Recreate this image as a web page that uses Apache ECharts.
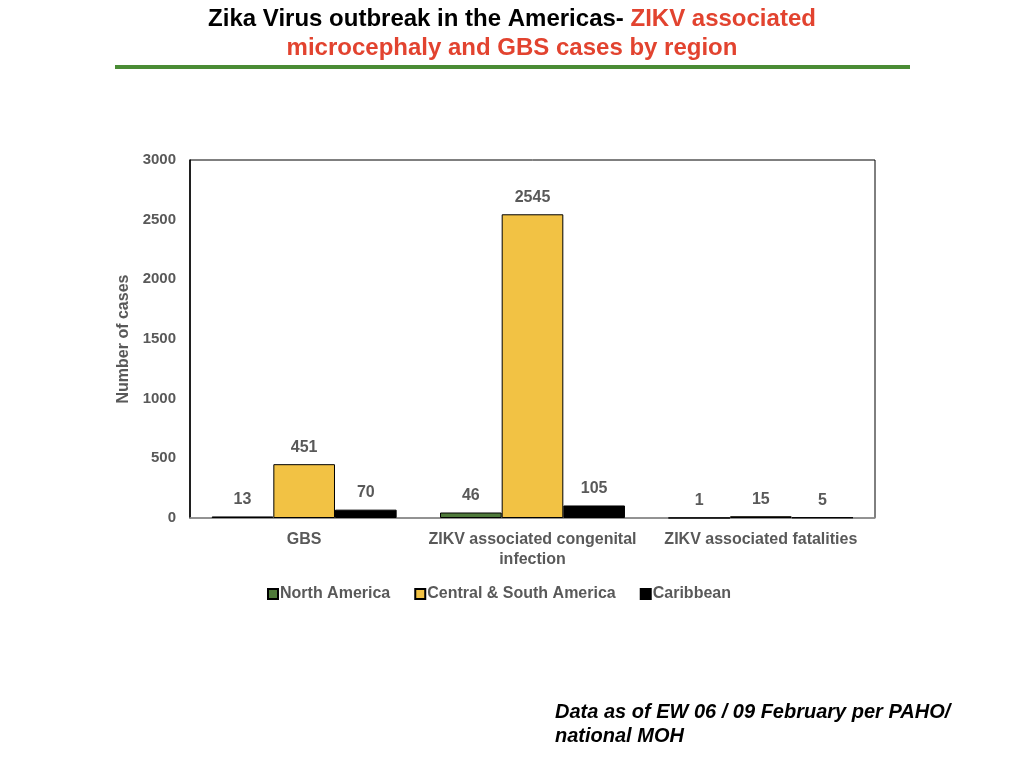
<!DOCTYPE html>
<html>
  <head>
    <meta charset="utf-8" />
    <title>Zika Virus outbreak in the Americas</title>
    <script src="https://cdn.jsdelivr.net/npm/echarts@6/dist/echarts.min.js"></script>
    <style>
      body { margin: 0; background: #fff; }
      #main { width: 1024px; height: 768px; }
    </style>
  </head>
  <body>
    <div id="main"></div>
    <script type="text/javascript">
      var categories = ['GBS', 'ZIKV associated congenital\ninfection', 'ZIKV associated fatalities'];
      var northAmerica = [13, 46, 1];
      var centralSouth = [451, 2545, 15];
      var caribbean = [70, 105, 5];
      var yTicks = [0, 500, 1000, 1500, 2000, 2500, 3000];

      var myChart = echarts.init(document.getElementById('main'));
      var font = '"Liberation Sans", Arial, sans-serif';
      var gray = '#595959';

      function barSeries(name, data, color) {
        return {
          name: name,
          type: 'bar',
          data: data,
          barGap: '0%',
          barCategoryGap: '19%',
          itemStyle: { color: color, borderColor: '#000', borderWidth: 1 },
          label: {
            show: true,
            position: 'top',
            distance: 9,
            color: gray,
            fontFamily: font,
            fontWeight: 'bold',
            fontSize: 16
          }
        };
      }

      var option = {
        animation: false,
        textStyle: { fontFamily: font },
        title: {
          left: 'center',
          top: 0,
          text: '{b|Zika Virus outbreak in the Americas- }{r|ZIKV associated}\n{r|microcephaly and GBS cases by region}',
          textStyle: {
            rich: {
              b: { color: '#000', fontSize: 24, fontWeight: 'bold', fontFamily: font, lineHeight: 29 },
              r: { color: '#e2432f', fontSize: 24, fontWeight: 'bold', fontFamily: font, lineHeight: 29 }
            }
          }
        },
        graphic: [
          {
            type: 'line',
            shape: { x1: 115, y1: 67, x2: 910, y2: 67 },
            style: { stroke: '#4a8c35', lineWidth: 4 }
          },
          {
            type: 'rect',
            shape: { x: 190, y: 160, width: 685, height: 358 },
            style: { fill: 'none', stroke: '#000', lineWidth: 1 },
            z: 0
          },
          {
            type: 'text',
            left: 555,
            top: 700,
            style: {
              text: 'Data as of EW 06 / 09 February per PAHO/\nnational MOH',
              fill: '#000',
              font: 'italic bold 20px ' + font,
              lineHeight: 24
            }
          }
        ],
        legend: {
          top: 581,
          left: 262,
          icon: 'rect',
          itemWidth: 10,
          itemHeight: 10,
          itemGap: 24,
          textStyle: { color: gray, fontWeight: 'bold', fontSize: 16, fontFamily: font, padding: [0, 0, 0, -3] },
          data: ['North America', 'Central & South America', 'Caribbean']
        },
        grid: { left: 190, right: 149, top: 160, bottom: 250, containLabel: false },
        xAxis: {
          type: 'category',
          data: categories,
          axisLine: { lineStyle: { color: '#999', width: 1.5 } },
          axisTick: { show: false },
          axisLabel: {
            color: gray,
            fontWeight: 'bold',
            fontSize: 16,
            fontFamily: font,
            margin: 12,
            lineHeight: 20,
            interval: 0
          }
        },
        yAxis: {
          type: 'value',
          min: yTicks[0],
          max: yTicks[yTicks.length - 1],
          interval: 500,
          name: 'Number of cases',
          nameLocation: 'middle',
          nameGap: 58,
          nameTextStyle: { color: gray, fontWeight: 'bold', fontSize: 16, fontFamily: font },
          axisLine: { show: true, lineStyle: { color: '#000', width: 1.5 } },
          axisTick: { show: false },
          splitLine: { show: false },
          axisLabel: {
            color: gray,
            fontWeight: 'bold',
            fontSize: 15,
            fontFamily: font,
            margin: 14,
            formatter: function (v) { return String(v); }
          }
        },
        series: [
          barSeries('North America', northAmerica, '#4f7a3a'),
          barSeries('Central & South America', centralSouth, '#f2c244'),
          barSeries('Caribbean', caribbean, '#000000')
        ]
      };

      myChart.setOption(option);
    </script>
  </body>
</html>
